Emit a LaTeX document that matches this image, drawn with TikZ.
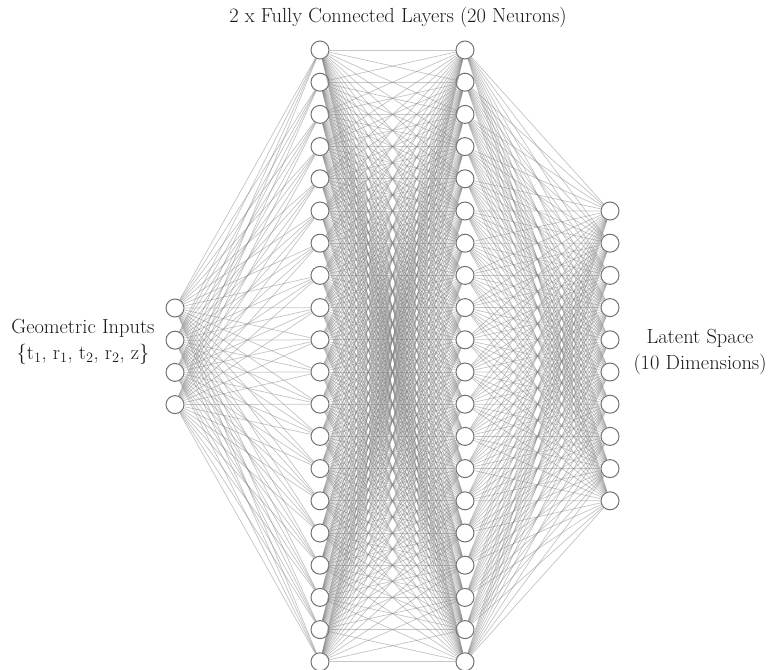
\documentclass[tikz,border=0pt]{standalone}
\begin{document}
\begin{tikzpicture}[x=1bp,y=-1bp,
  neuron/.style={circle,draw=black!55,line width=1bp,fill=white,minimum size=18bp,inner sep=0pt},
  conn/.style={draw=black!50,line width=0.75bp,opacity=0.45},
  lbl/.style={text=black!90,font=\fontsize{20.5}{26}\selectfont,align=center,inner sep=0pt}]
\useasboundingbox (0,0) rectangle (768,670);
% nodes
\foreach \i in {1,...,4}  \node[neuron] (a\i) at (175,{308+(\i-1)*32.2}) {};
\foreach \i in {1,...,20} \node[neuron] (b\i) at (320,{50+(\i-1)*32.2}) {};
\foreach \i in {1,...,20} \node[neuron] (c\i) at (465,{50+(\i-1)*32.2}) {};
\foreach \i in {1,...,10} \node[neuron] (d\i) at (610,{211+(\i-1)*32.2}) {};
% connections
\foreach \i in {1,...,4} \foreach \j in {1,...,20} \draw[conn] (a\i) -- (b\j);
\foreach \i in {1,...,20} \foreach \j in {1,...,20} \draw[conn] (b\i) -- (c\j);
\foreach \i in {1,...,20} \foreach \j in {1,...,10} \draw[conn] (c\i) -- (d\j);
% labels
\node[lbl] (t) at (398,17) {2 x Fully Connected Layers (20 Neurons)};
\node[lbl] (gi) at (83,342) {Geometric Inputs\\\{t\textsubscript{1}, r\textsubscript{1}, t\textsubscript{2}, r\textsubscript{2}, z\}};
\node[lbl] (ls) at (700,352) {Latent Space\\(10 Dimensions)};
\end{tikzpicture}
\end{document}
